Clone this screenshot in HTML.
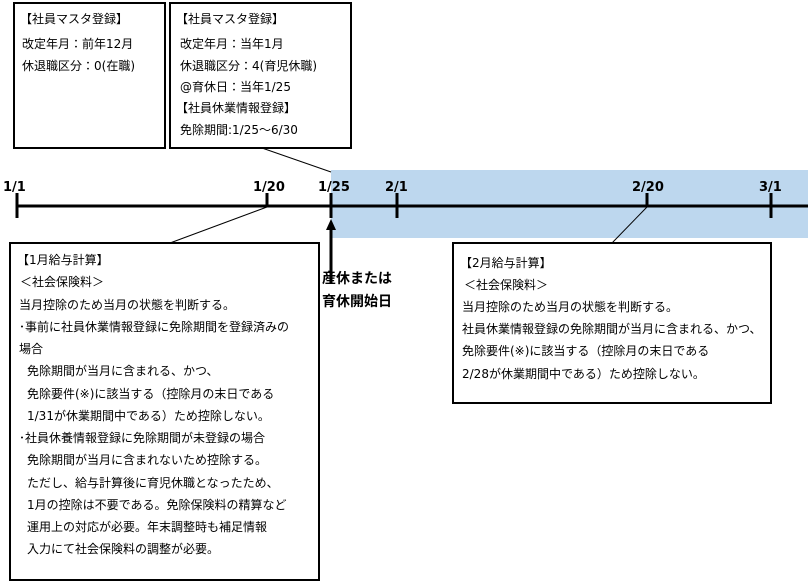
<!DOCTYPE html>
<html><head><meta charset="utf-8"><style>
html,body{margin:0;padding:0;background:#fff;}
svg{display:block;}
text{font-family:"DejaVu Sans","Noto Sans CJK JP",sans-serif;font-size:12px;fill:#000;}
.b{font-family:"DejaVu Sans","Noto Sans CJK JP",sans-serif;font-weight:bold;font-size:13px;}
</style></head><body>
<svg width="808" height="585" xmlns="http://www.w3.org/2000/svg">
<rect x="331" y="170" width="477" height="68" fill="#bdd7ee"/>
<line x1="262" y1="148" x2="331" y2="172" stroke="#000" stroke-width="1"/>
<line x1="170" y1="243" x2="267" y2="207" stroke="#000" stroke-width="1"/>
<line x1="612" y1="243" x2="647" y2="207" stroke="#000" stroke-width="1"/>
<line x1="16" y1="206" x2="808" y2="206" stroke="#000" stroke-width="3"/>
<g stroke="#000" stroke-width="3">
<line x1="17" y1="193" x2="17" y2="218"/>
<line x1="267" y1="193" x2="267" y2="207"/>
<line x1="331" y1="193" x2="331" y2="218"/>
<line x1="397" y1="193" x2="397" y2="218"/>
<line x1="647" y1="193" x2="647" y2="207"/>
<line x1="771" y1="193" x2="771" y2="218"/>
</g>
<text class="b" x="3" y="191">1/1</text>
<text class="b" x="253" y="191">1/20</text>
<text class="b" x="318" y="191">1/25</text>
<text class="b" x="385" y="191">2/1</text>
<text class="b" x="632" y="191">2/20</text>
<text class="b" x="759" y="191">3/1</text>
<line x1="331" y1="284" x2="331" y2="228" stroke="#000" stroke-width="3"/>
<polygon points="326,230 336,230 331,219" fill="#000"/>
<text class="b" x="357" y="283" text-anchor="middle" style="font-size:14px">産休または</text>
<text class="b" x="357" y="306" text-anchor="middle" style="font-size:14px">育休開始日</text>
<g fill="#fff" stroke="#000" stroke-width="2">
<rect x="14" y="3" width="151" height="145"/>
<rect x="170" y="3" width="181" height="145"/>
<rect x="10" y="243" width="309" height="337"/>
<rect x="453" y="243" width="318" height="160"/>
</g>
<text x="20" y="23">【社員マスタ登録】</text>
<text x="22" y="48">改定年月：前年12月</text>
<text x="22" y="70">休退職区分：0(在職)</text>

<text x="176" y="23">【社員マスタ登録】</text>
<text x="180" y="48">改定年月：当年1月</text>
<text x="180" y="70">休退職区分：4(育児休職)</text>
<text x="180" y="91">@育休日：当年1/25</text>
<text x="176" y="112">【社員休業情報登録】</text>
<text x="180" y="134">免除期間:1/25～6/30</text>

<g>
<text x="17" y="264">【1月給与計算】</text>
<text x="20" y="286">＜社会保険料＞</text>
<text x="19" y="309">当月控除のため当月の状態を判断する。</text>
<text x="19" y="331">･事前に社員休業情報登録に免除期間を登録済みの</text>
<text x="19" y="353">場合</text>
<text x="27" y="375">免除期間が当月に含まれる、かつ、</text>
<text x="27" y="398">免除要件(※)に該当する（控除月の末日である</text>
<text x="27" y="420">1/31が休業期間中である）ため控除しない。</text>
<text x="19" y="442">･社員休養情報登録に免除期間が未登録の場合</text>
<text x="27" y="464">免除期間が当月に含まれないため控除する。</text>
<text x="27" y="487">ただし、給与計算後に育児休職となったため、</text>
<text x="27" y="509">1月の控除は不要である。免除保険料の精算など</text>
<text x="27" y="531">運用上の対応が必要。年末調整時も補足情報</text>
<text x="27" y="553">入力にて社会保険料の調整が必要。</text>
</g>
<g>
<text x="460" y="267">【2月給与計算】</text>
<text x="464" y="289">＜社会保険料＞</text>
<text x="462" y="311">当月控除のため当月の状態を判断する。</text>
<text x="462" y="333">社員休業情報登録の免除期間が当月に含まれる、かつ、</text>
<text x="462" y="355">免除要件(※)に該当する（控除月の末日である</text>
<text x="462" y="378">2/28が休業期間中である）ため控除しない。</text>
</g>
</svg>
</body></html>
